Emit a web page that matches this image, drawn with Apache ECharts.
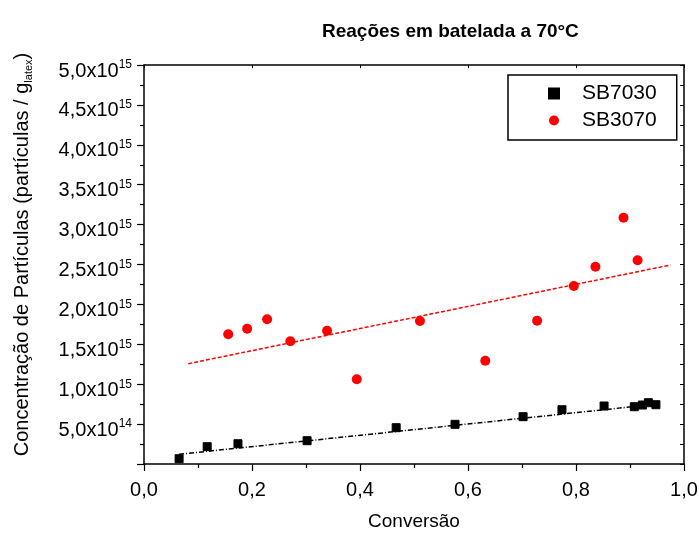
<!DOCTYPE html>
<html lang="pt">

<head>
    <meta charset="UTF-8">
    <title>Reações em batelada a 70°C</title>
    <script src="https://cdn.jsdelivr.net/npm/echarts@6/dist/echarts.min.js"></script>
    <style>
        html, body { margin: 0; padding: 0; background: #fff; }
        #main { width: 699px; height: 533px; }
    </style>
</head>

<body>
    <div id="main"></div>
    <script>
        // conversão (x) e concentração em unidades de 10^15 particulas/g (y)
        var sb7030X = [0.065, 0.117, 0.174, 0.302, 0.467, 0.576, 0.702, 0.774, 0.852, 0.908, 0.923, 0.934, 0.948];
        var sb7030Y = [0.066, 0.217, 0.254, 0.292, 0.455, 0.497, 0.593, 0.680, 0.727, 0.718, 0.739, 0.768, 0.743];
        var sb3070X = [0.156, 0.191, 0.228, 0.271, 0.339, 0.394, 0.511, 0.632, 0.728, 0.796, 0.836, 0.888, 0.914];
        var sb3070Y = [1.625, 1.695, 1.813, 1.538, 1.670, 1.061, 1.792, 1.294, 1.796, 2.231, 2.472, 3.086, 2.553];

        // retas de ajuste (pontos extremos)
        var fit7030 = [[0.065, 0.122], [0.950, 0.750]];
        var fit3070 = [[0.082, 1.257], [0.975, 2.494]];

        // rotulos dos eixos
        var xTickLabels = ['0,0', '0,2', '0,4', '0,6', '0,8', '1,0'];
        var yTickMant = ['', '5,0', '1,0', '1,5', '2,0', '2,5', '3,0', '3,5', '4,0', '4,5', '5,0'];
        var yTickExp = ['', '14', '15', '15', '15', '15', '15', '15', '15', '15', '15'];

        function pairs(xs, ys) {
            var out = [];
            for (var i = 0; i < xs.length; i++) out.push([xs[i], ys[i]]);
            return out;
        }

        var FONT = '"Liberation Sans", Arial, sans-serif';

        var myChart = echarts.init(document.getElementById('main'));
        var option = {
            animation: false,
            title: {
                text: 'Reações em batelada a 70°C',
                left: 317,
                top: 17,
                textStyle: { fontFamily: FONT, fontSize: 19, fontWeight: 'bold', color: '#000' }
            },
            legend: {
                left: 508,
                top: 75,
                orient: 'vertical',
                width: 171,
                padding: [8, 20, 9, 40],
                itemGap: 6,
                itemWidth: 10,
                itemHeight: 10,
                borderColor: '#000',
                borderWidth: 1.5,
                borderRadius: 0,
                textStyle: { fontFamily: FONT, fontSize: 21, color: '#000', padding: [0, 0, 0, 18] },
                data: ['SB7030', 'SB3070']
            },
            grid: { left: 144, right: 15, top: 65, bottom: 69, outerBoundsMode: 'none' },
            xAxis: [{
                type: 'value',
                min: 0,
                max: 1,
                interval: 0.2,
                name: 'Conversão',
                nameLocation: 'middle',
                nameGap: 48,
                nameTextStyle: { fontFamily: FONT, fontSize: 19, color: '#000' },
                axisLine: { onZero: false, lineStyle: { color: '#000', width: 1.5 } },
                axisTick: { length: 7, lineStyle: { color: '#000', width: 1.2 } },
                minorTick: { show: true, splitNumber: 2, length: 4, lineStyle: { color: '#000', width: 1.2 } },
                axisLabel: {
                    margin: 16,
                    fontFamily: FONT,
                    fontSize: 20,
                    color: '#000',
                    formatter: function(v, idx) { return xTickLabels[idx]; }
                },
                splitLine: { show: false }
            }, {
                type: 'value',
                position: 'top',
                min: 0,
                max: 1,
                interval: 0.2,
                axisLine: { onZero: false, lineStyle: { color: '#000', width: 1.5 } },
                axisTick: { inside: true, length: 3, lineStyle: { color: '#000' } },
                axisLabel: { show: false },
                splitLine: { show: false }
            }],
            yAxis: [{
                type: 'value',
                min: 0,
                max: 5,
                interval: 0.5,
                name: 'Concentração de Partículas (partículas / g{sub|latex})',
                nameLocation: 'middle',
                nameGap: 110,
                nameTextStyle: {
                    fontFamily: FONT,
                    fontSize: 20,
                    color: '#000',
                    padding: [0, 0, 0, 20],
                    rich: {
                        sub: { fontFamily: FONT, fontSize: 11, color: '#000', padding: [12, 0, 0, 0] }
                    }
                },
                axisLine: { onZero: false, lineStyle: { color: '#000', width: 1.5 } },
                axisTick: { length: 7, lineStyle: { color: '#000', width: 1.2 } },
                minorTick: { show: true, splitNumber: 2, length: 4, lineStyle: { color: '#000', width: 1.2 } },
                axisLabel: {
                    margin: 12,
                    padding: [12, 0, 0, 0],
                    formatter: function(v, idx) {
                        if (!yTickMant[idx]) return '';
                        return '{m|' + yTickMant[idx] + 'x10}{e|' + yTickExp[idx] + '}';
                    },
                    rich: {
                        m: { fontFamily: FONT, fontSize: 20, color: '#000' },
                        e: { fontFamily: FONT, fontSize: 12, color: '#000', padding: [0, 0, 12, 0] }
                    }
                },
                splitLine: { show: false }
            }, {
                type: 'value',
                position: 'right',
                min: 0,
                max: 5,
                interval: 0.5,
                axisLine: { onZero: false, lineStyle: { color: '#000', width: 1.5 } },
                axisTick: { inside: true, length: 4, lineStyle: { color: '#000' } },
                minorTick: { show: true, splitNumber: 2, length: 4, lineStyle: { color: '#000' } },
                axisLabel: { show: false },
                splitLine: { show: false }
            }],
            series: [{
                name: 'fit7030',
                type: 'line',
                data: fit7030,
                symbol: 'none',
                silent: true,
                lineStyle: { color: '#000', width: 1.5, type: [5, 2, 1, 2] }
            }, {
                name: 'fit3070',
                type: 'line',
                data: fit3070,
                symbol: 'none',
                silent: true,
                lineStyle: { color: '#ff0000', width: 1.5, type: [4, 2] }
            }, {
                name: 'SB7030',
                type: 'scatter',
                data: pairs(sb7030X, sb7030Y),
                symbol: 'rect',
                symbolSize: 8,
                itemStyle: { color: '#000', borderColor: '#000', borderWidth: 1, opacity: 1 },
                z: 3
            }, {
                name: 'SB3070',
                type: 'scatter',
                data: pairs(sb3070X, sb3070Y),
                symbol: 'circle',
                symbolSize: 10,
                itemStyle: { color: '#ff0000', opacity: 1 },
                z: 3
            }]
        };
        myChart.setOption(option);
    </script>
</body>

</html>
